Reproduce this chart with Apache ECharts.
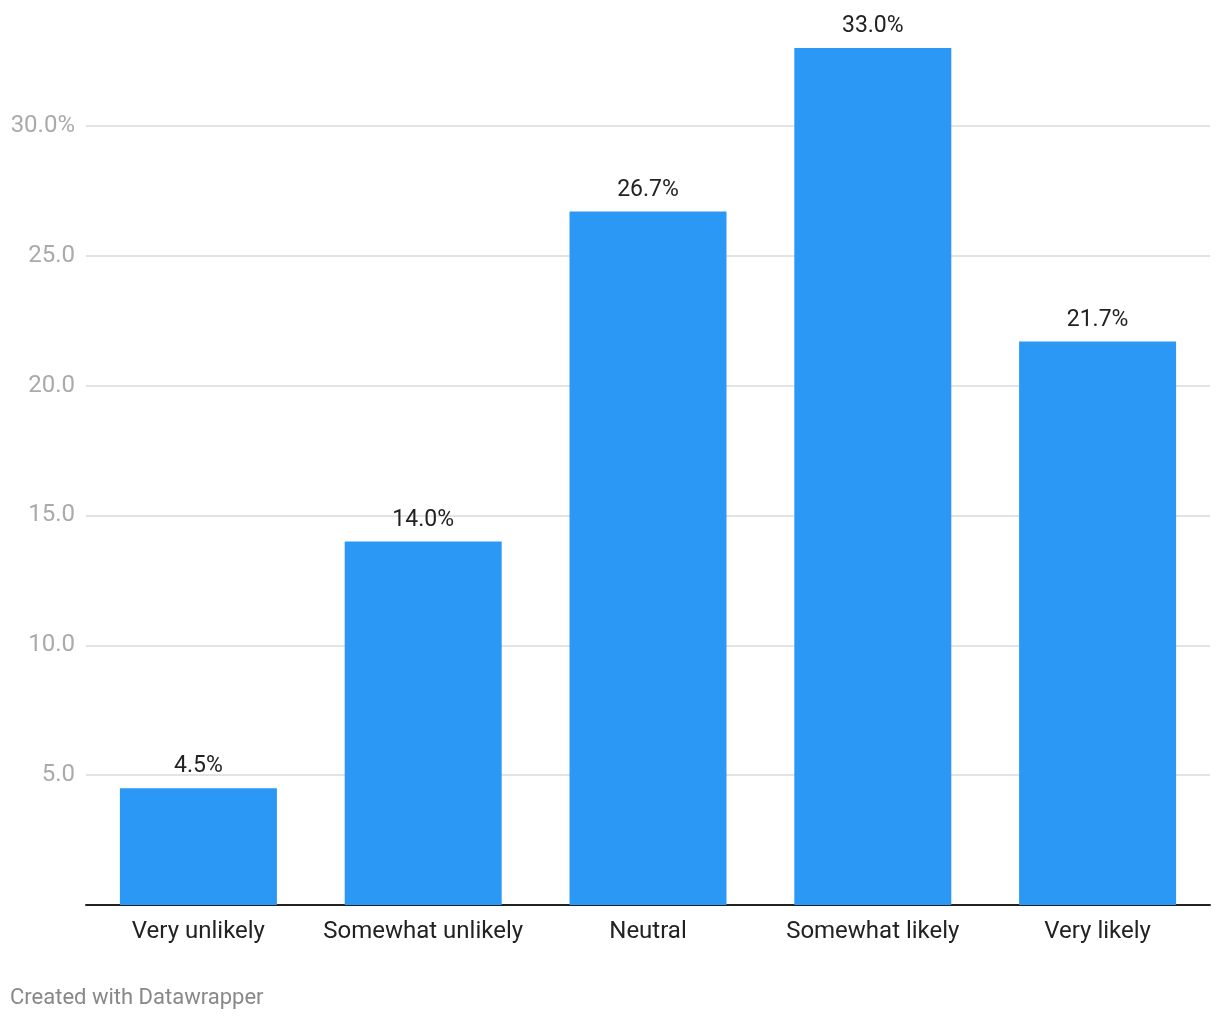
<!DOCTYPE html>
<html>
<head>
<meta charset="utf-8">
<script src="https://cdn.jsdelivr.net/npm/echarts@6/dist/echarts.min.js"></script>
<style>
  html, body { margin: 0; padding: 0; background: #fff; }
  #chart { width: 1220px; height: 1020px; }
</style>
</head>
<body>
<div id="chart"></div>
<script>
// categories and values
const categories = ['Very unlikely', 'Somewhat unlikely', 'Neutral', 'Somewhat likely', 'Very likely'];
const shares = [4.5, 14.0, 26.7, 33.0, 21.7];
const yTicks = [5, 10, 15, 20, 25, 30];

const myChart = echarts.init(document.getElementById('chart'));

myChart.setOption({
  animation: false,
  textStyle: { fontFamily: 'Roboto' },
  grid: { left: 86, right: 10, top: 48, bottom: 115, containLabel: false },
  graphic: [{
    type: 'text',
    left: 10,
    top: 987,
    style: { text: 'Created with Datawrapper', fill: '#888', font: '22px Roboto' }
  }],
  xAxis: {
    type: 'category',
    data: categories,
    axisTick: { show: false },
    axisLine: { lineStyle: { color: '#222', width: 2 } },
    axisLabel: { color: '#222', fontSize: 24, margin: 15, interval: 0 }
  },
  yAxis: {
    type: 'value',
    min: 0,
    max: 33,
    interval: 5,
    axisLine: { show: false },
    axisTick: { show: false },
    splitLine: { showMinLine: false, showMaxLine: false, lineStyle: { color: '#e3e3e3', width: 2 } },
    axisLabel: {
      color: '#aaa',
      fontSize: 24,
      margin: 11,
      padding: [4, 0, 0, 0],
      showMinLabel: false,
      showMaxLabel: false,
      formatter: function (v) {
        if (yTicks.indexOf(v) < 0) return '';
        return v === 30 ? v.toFixed(1) + '%' : v.toFixed(1);
      }
    }
  },
  series: [{
    type: 'bar',
    data: shares,
    barWidth: 157,
    itemStyle: { color: '#2b98f6' },
    label: {
      show: true,
      position: 'top',
      distance: 10,
      color: '#222',
      fontSize: 23,
      formatter: function (p) { return p.value.toFixed(1) + '%'; }
    }
  }]
});
</script>
</body>
</html>
